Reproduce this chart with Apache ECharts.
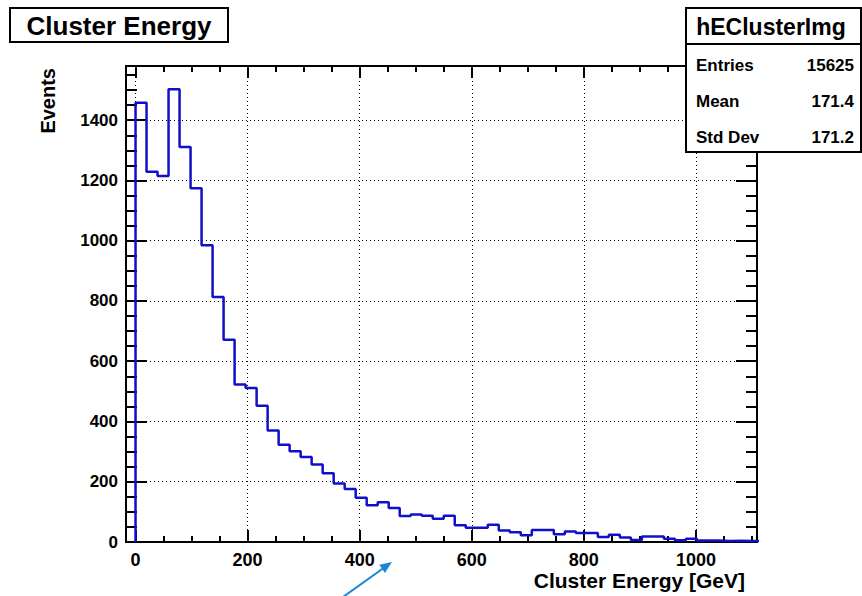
<!DOCTYPE html>
<html>
<head>
<meta charset="utf-8">
<script src="https://cdn.jsdelivr.net/npm/echarts@6/dist/echarts.min.js"></script>
<style>
html,body{margin:0;padding:0;background:#fff;}
#chart{width:862px;height:596px;}
</style>
</head>
<body>
<div id="chart"></div>
<script>
// ---- data ----
const histTitle = 'Cluster Energy';
const histName = 'hEClusterImg';
const xTitle = 'Cluster Energy [GeV]';
const yTitle = 'Events';
const binLow = 0;
const binWidth = 1100 / 56;           // GeV per bin
const counts = [
  1458, 1229, 1215, 1503, 1311, 1174, 985, 813, 671, 523,
  511, 452, 370, 323, 301, 282, 257, 228, 194, 176,
  147, 122, 132, 113, 86, 91, 87, 77, 87, 56,
  47, 47, 57, 38, 32, 22, 40, 40, 26, 35,
  30, 30, 17, 24, 15, 7, 18, 18, 11, 6,
  11, 5, 5, 3, 4, 3, 3
];
const statLabels = ['Entries', 'Mean', 'Std Dev'];
const statValues = ['15625', '171.4', '171.2'];
const xMajor = [0, 200, 400, 600, 800, 1000];
const xMinor = [50, 100, 150, 250, 300, 350, 450, 500, 550, 650, 700, 750, 850, 900, 950, 1050, 1100];
const yMajor = [0, 200, 400, 600, 800, 1000, 1200, 1400];
const yMinor = [50, 100, 150, 250, 300, 350, 450, 500, 550, 650, 700, 750, 850, 900, 950,
                1050, 1100, 1150, 1250, 1300, 1350, 1450, 1500, 1550];
const xRange = [-17, 1109];
const yRange = [0, 1580];

// ---- build step outline of the histogram ----
const pts = [[binLow, 0]];
counts.forEach((c, i) => {
  pts.push([binLow + i * binWidth, c]);
  pts.push([binLow + (i + 1) * binWidth, c]);
});
pts.push([binLow + counts.length * binWidth, 0]);

const FONT = '"Liberation Sans", Arial, Helvetica, sans-serif';
const BLACK = '#000';

function xAxisDef(pos, ticks, len, labels) {
  return {
    type: 'value', position: pos, min: xRange[0], max: xRange[1],
    axisLine: { show: true, onZero: false, lineStyle: { color: BLACK, width: 2 } },
    axisTick: { show: true, inside: true, length: len, customValues: ticks, lineStyle: { color: BLACK, width: 2 } },
    axisLabel: labels ? {
      show: true, customValues: ticks, margin: 9, color: BLACK, fontSize: 18, fontWeight: 'bold', fontFamily: FONT,
      formatter: v => String(v)
    } : { show: false },
    splitLine: { show: false }
  };
}
function yAxisDef(pos, ticks, len, labels) {
  return {
    type: 'value', position: pos, min: yRange[0], max: yRange[1],
    axisLine: { show: true, onZero: false, lineStyle: { color: BLACK, width: 2 } },
    axisTick: { show: true, inside: true, length: len, customValues: ticks, lineStyle: { color: BLACK, width: 2 } },
    axisLabel: labels ? {
      show: true, customValues: ticks, margin: 8, color: BLACK, fontSize: 17, fontWeight: 'bold', fontFamily: FONT,
      formatter: v => String(v)
    } : { show: false },
    splitLine: { show: false }
  };
}

const gridLines = xMajor.map(v => ({ xAxis: v })).concat(yMajor.filter(v => v > 0).map(v => ({ yAxis: v })));

const chart = echarts.init(document.getElementById('chart'), null, { renderer: 'svg', width: 862, height: 596 });
chart.setOption({
  animation: false,
  backgroundColor: '#fff',
  grid: { left: 126, top: 66, width: 631, height: 476 },
  xAxis: [
    xAxisDef('bottom', xMajor, 12, true),
    xAxisDef('top', xMajor, 12, false),
    xAxisDef('bottom', xMinor, 6, false),
    xAxisDef('top', xMinor, 6, false)
  ],
  yAxis: [
    yAxisDef('left', yMajor, 21, true),
    yAxisDef('right', yMajor, 21, false),
    yAxisDef('left', yMinor, 11, false),
    yAxisDef('right', yMinor, 11, false)
  ],
  series: [{
    type: 'line',
    xAxisIndex: 0, yAxisIndex: 0,
    data: pts,
    showSymbol: false,
    clip: true,
    lineStyle: { color: '#1010c8', width: 2.5 },
    z: 5,
    markLine: {
      silent: true,
      symbol: ['none', 'none'],
      label: { show: false },
      lineStyle: { color: BLACK, type: [1, 3], width: 1 },
      data: gridLines,
      z: 1
    }
  }],
  graphic: [
    // histogram title box
    { type: 'rect', shape: { x: 10, y: 8, width: 218, height: 34 }, style: { fill: '#fff', stroke: BLACK, lineWidth: 2 }, z: 10 },
    { type: 'text', x: 119, y: 26, style: { text: histTitle, align: 'center', verticalAlign: 'middle', fill: BLACK, font: 'bold 26px ' + FONT }, z: 11 },
    // stats box
    { type: 'rect', shape: { x: 686, y: 8, width: 175, height: 144 }, style: { fill: '#fff', stroke: BLACK, lineWidth: 2 }, z: 10 },
    { type: 'line', shape: { x1: 686, y1: 44, x2: 861, y2: 44 }, style: { stroke: BLACK, lineWidth: 2 }, z: 11 },
    { type: 'text', x: 771, y: 27, style: { text: histName, align: 'center', verticalAlign: 'middle', fill: BLACK, font: 'bold 23px ' + FONT }, z: 11 },
    ...statLabels.map((t, i) => ({ type: 'text', x: 696, y: 65 + i * 36, style: { text: t, align: 'left', verticalAlign: 'middle', fill: BLACK, font: 'bold 17px ' + FONT }, z: 11 })),
    ...statValues.map((t, i) => ({ type: 'text', x: 854, y: 65 + i * 36, style: { text: t, align: 'right', verticalAlign: 'middle', fill: BLACK, font: 'bold 17px ' + FONT }, z: 11 })),
    // axis titles
    { type: 'text', x: 745, y: 580, style: { text: xTitle, align: 'right', verticalAlign: 'middle', fill: BLACK, font: 'bold 21px ' + FONT }, z: 11 },
    { type: 'text', x: 48, y: 68, rotation: Math.PI / 2, style: { text: yTitle, align: 'right', verticalAlign: 'middle', fill: BLACK, font: 'bold 20px ' + FONT }, z: 11 },
    // annotation arrow
    { type: 'line', shape: { x1: 343, y1: 597, x2: 385, y2: 567 }, style: { stroke: '#1b86d4', lineWidth: 2 }, z: 12 },
    { type: 'polygon', shape: { points: [[392, 562], [384.9, 572.9], [379.3, 564.7]] }, style: { fill: '#1b86d4' }, z: 12 }
  ]
});
</script>
</body>
</html>
